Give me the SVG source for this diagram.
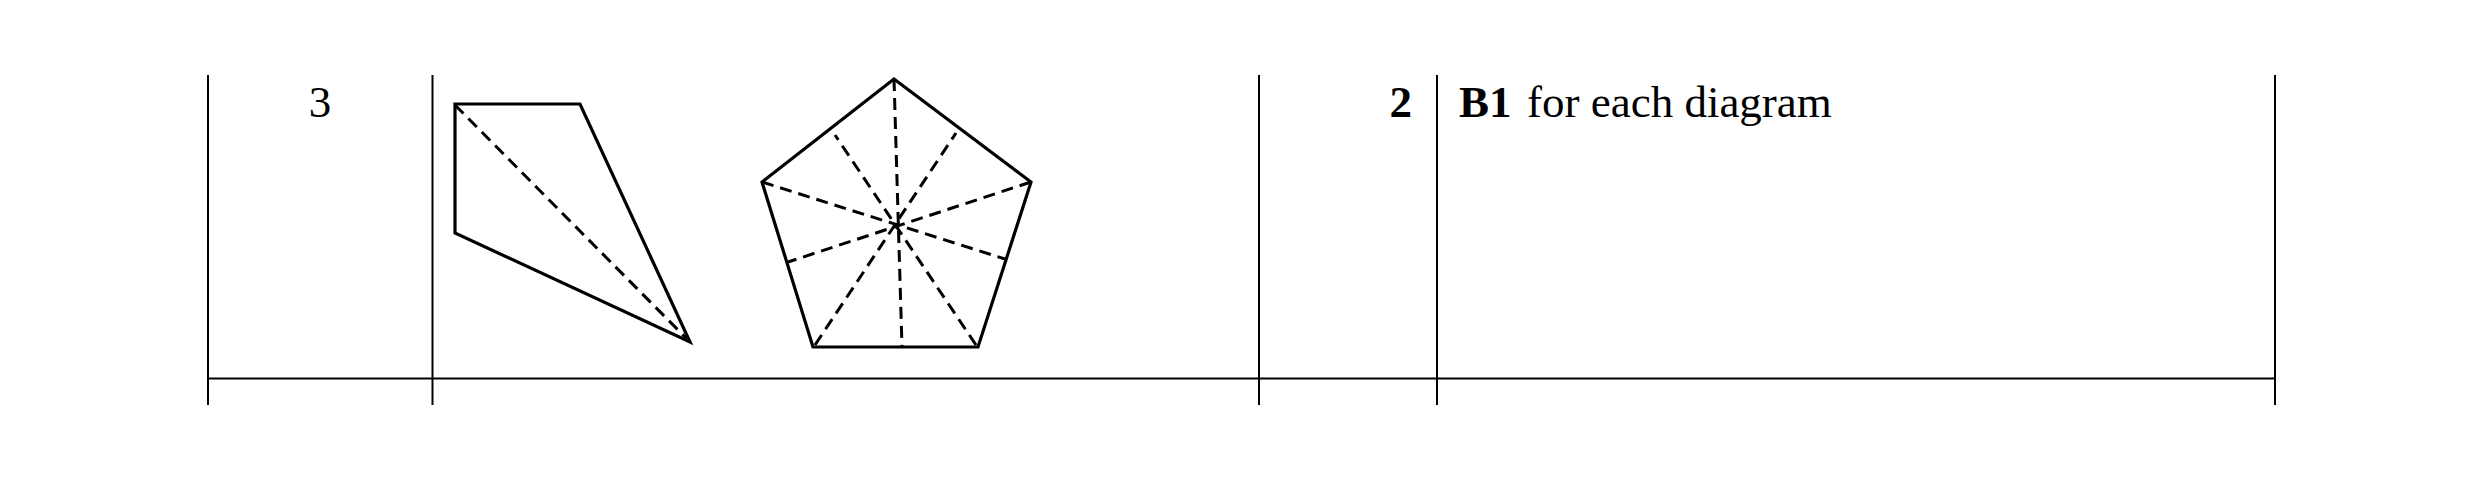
<svg xmlns="http://www.w3.org/2000/svg" width="2481" height="481" viewBox="0 0 2481 481">
<style>
.grid{stroke:#000;stroke-width:2;fill:none}
.solid{stroke:#000;stroke-width:3.2;fill:none;stroke-linejoin:miter}
.dash{stroke:#000;stroke-width:3;fill:none;stroke-dasharray:12 7}
.t{font-family:"Liberation Serif","Times New Roman",serif;font-size:45px;fill:#000}
.b{font-weight:bold}
</style>
<rect width="2481" height="481" fill="#fff"/>
<g id="table">
<line class="grid" x1="208" y1="75" x2="208" y2="405"/>
<line class="grid" x1="432.5" y1="75" x2="432.5" y2="405"/>
<line class="grid" x1="1259" y1="75" x2="1259" y2="405"/>
<line class="grid" x1="1437" y1="75" x2="1437" y2="405"/>
<line class="grid" x1="2275" y1="75" x2="2275" y2="405"/>
<line class="grid" x1="208" y1="378.5" x2="2275" y2="378.5" stroke-width="2.4"/>
</g>
<g id="question-number">
<text class="t" x="320" y="117" text-anchor="middle">3</text>
</g>
<g id="kite">
<polygon class="solid" points="455,104 580,104 690,342 455,233"/>
<line class="dash" x1="455" y1="105" x2="689" y2="341"/>
</g>
<g id="pentagon">
<polygon class="solid" points="894,79 1031,182 978,347 813,347 762,182"/>
<line class="dash" x1="894" y1="79" x2="902" y2="347"/>
<line class="dash" x1="762" y1="182" x2="1005" y2="259"/>
<line class="dash" x1="1031" y1="182" x2="788" y2="262"/>
<line class="dash" x1="815" y1="345" x2="956" y2="133"/>
<line class="dash" x1="976" y1="345" x2="835" y2="135"/>
</g>
<g id="marks">
<text class="t b" x="1412" y="117" text-anchor="end">2</text>
</g>
<g id="guidance">
<text class="t" x="1459" y="117"><tspan class="b">B1</tspan><tspan x="1527">for each diagram</tspan></text>
</g>
</svg>
